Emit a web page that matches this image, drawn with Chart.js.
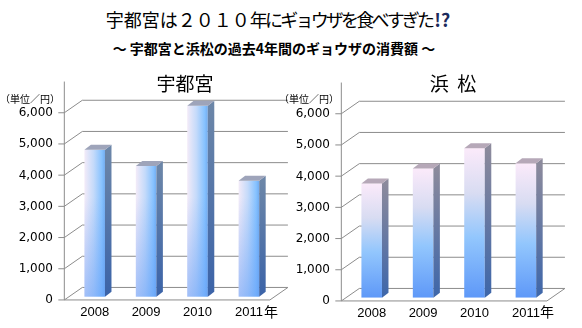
<!DOCTYPE html>
<html lang="ja">
<head>
<meta charset="utf-8">
<script src="https://cdn.jsdelivr.net/npm/chart.js@4.4.1/dist/chart.umd.min.js"></script>
<style>
  html, body { margin: 0; padding: 0; background: #fff; }
  #page { position: relative; width: 582px; height: 328px; overflow: hidden; font-family: "Noto Sans CJK JP", sans-serif; color: #000; }
  .txt { position: absolute; white-space: nowrap; }
  #title { left: 0; width: 556px; top: 7px; text-align: center; font-size: 18px; line-height: 24px; }
  #title .kana { letter-spacing: -2.8px; }
  #title b { color: #1c2a5c; margin-left: 2px; }
  #subtitle { left: 0; width: 548px; top: 38px; text-align: center; font-size: 14px; line-height: 20px; font-weight: bold; }
  .chart-title { font-size: 19px; line-height: 24px; width: 120px; text-align: center; top: 71px; }
  .unit { font-size: 10px; line-height: 14px; top: 92px; }
  .nen { font-size: 14px; line-height: 18px; top: 302px; }
  canvas { position: absolute; top: 0; }
</style>
</head>
<body>
<div id="page">
  <div class="txt" id="title">宇都宮は２０１０<span class="kana">年にギョウザを食べすぎた</span><b>!?</b></div>
  <div class="txt" id="subtitle">～ 宇都宮と浜松の過去4年間のギョウザの消費額 ～</div>

  <canvas id="chart-utsunomiya" width="290" height="328" style="left:0"></canvas>
  <canvas id="chart-hamamatsu" width="290" height="328" style="left:277px;top:1px"></canvas>

  <div class="txt chart-title" style="left:125px">宇都宮</div>
  <div class="txt chart-title" style="left:393px">浜&nbsp;&nbsp;松</div>
  <div class="txt unit" style="left:0">（単位／円）</div>
  <div class="txt unit" style="left:279px">（単位／円）</div>
  <div class="txt nen" style="left:264px">年</div>
  <div class="txt nen" style="left:540px">年</div>
</div>

<script>
// 年ごとのギョウザ消費額（円）
const years      = ['2008', '2009', '2010', '2011'];
const utsunomiya = [4710, 4190, 6120, 3720];
const hamamatsu  = [3660, 4140, 4790, 4310];
const yTicks     = [0, 1000, 2000, 3000, 4000, 5000, 6000];

// 3D風の奥行き
const WALL_DX = 18, WALL_DY = -12.5;   // 手前 → 奥の壁
const PLANE   = 0.26;                  // 棒が立つ面の位置（手前からの割合）
const BAR_DX  = 6.5, BAR_DY = -5;      // 棒の奥行き
const BAR_PCT = 0.4;
const GRID    = '#8c8c8c';

// 棒の正面の塗り
function frontFill(ctx, style) {
  const chart = ctx.chart;
  if (!chart.chartArea) return '#8ac4ff';
  const xs = chart.scales.x, ys = chart.scales.y;
  const cx   = xs.getPixelForValue(ctx.dataIndex);
  const half = xs.width / years.length * BAR_PCT / 2;
  const c = chart.ctx;
  let g;
  if (style === 'horizontal') {
    g = c.createLinearGradient(cx - half, 0, cx + half, 0);
    g.addColorStop(0,    '#f3ebf8');
    g.addColorStop(0.45, '#c4dafa');
    g.addColorStop(0.85, '#86c2ff');
    g.addColorStop(1,    '#72acf0');
  } else {
    const top  = ys.getPixelForValue(ctx.raw);
    const base = ys.getPixelForValue(0);
    g = c.createLinearGradient(0, top, 0, base);
    g.addColorStop(0,    '#fbeafa');
    g.addColorStop(0.3,  '#d8dcf2');
    g.addColorStop(0.6,  '#92c6fd');
    g.addColorStop(1,    '#5e98f8');
  }
  return g;
}

// 奥の壁・床・目盛線、棒の側面と上面
const depthPlugin = {
  id: 'depth',
  beforeDatasetsDraw(chart) {
    const { ctx, chartArea } = chart;
    const ys = chart.scales.y;
    const fx = PLANE * WALL_DX, fy = PLANE * WALL_DY;
    const left  = chartArea.left - fx;
    const right = chartArea.right - fx;

    ctx.save();
    ctx.strokeStyle = GRID;
    ctx.lineWidth = 1;
    ctx.beginPath();
    yTicks.forEach(v => {
      const y = ys.getPixelForValue(v) - fy;
      ctx.moveTo(left - 6, y);
      ctx.lineTo(left, y);
      ctx.lineTo(left + WALL_DX, y + WALL_DY);
      ctx.lineTo(right + WALL_DX, y + WALL_DY);
    });
    // 床
    const y0 = ys.getPixelForValue(0) - fy;
    ctx.moveTo(left, y0);
    ctx.lineTo(right, y0);
    ctx.lineTo(right + WALL_DX, y0 + WALL_DY);
    // 縦軸
    ctx.moveTo(left, y0);
    ctx.lineTo(left, ys.getPixelForValue(ys.max) - fy);
    ctx.stroke();
    ctx.restore();
  },
  afterDatasetsDraw(chart, args, opts) {
    const { ctx } = chart;
    const ys = chart.scales.y;
    const meta = chart.getDatasetMeta(0);

    ctx.save();
    meta.data.forEach(bar => {
      const { x, y, base, width } = bar.getProps(['x', 'y', 'base', 'width']);
      const l = x - width / 2, r = x + width / 2;

      // 左のグラフは下の方ほど青くなる
      if (opts.shade) {
        const from = Math.max(y, ys.getPixelForValue(3200));
        const sg = ctx.createLinearGradient(0, ys.getPixelForValue(3200), 0, base);
        sg.addColorStop(0, 'rgba(96,156,248,0)');
        sg.addColorStop(1, 'rgba(96,156,248,0.55)');
        ctx.fillStyle = sg;
        ctx.fillRect(l, from, width, base - from);
      }

      // 側面
      const side = ctx.createLinearGradient(0, y, 0, base);
      side.addColorStop(0, opts.sideTop);
      side.addColorStop(1, opts.sideBottom);
      ctx.fillStyle = side;
      ctx.beginPath();
      ctx.moveTo(r, y);
      ctx.lineTo(r + BAR_DX, y + BAR_DY);
      ctx.lineTo(r + BAR_DX, base + BAR_DY);
      ctx.lineTo(r, base);
      ctx.closePath();
      ctx.fill();

      // 上面
      ctx.fillStyle = opts.cap;
      ctx.beginPath();
      ctx.moveTo(l, y);
      ctx.lineTo(l + BAR_DX, y + BAR_DY);
      ctx.lineTo(r + BAR_DX, y + BAR_DY);
      ctx.lineTo(r, y);
      ctx.closePath();
      ctx.fill();
    });
    ctx.restore();
  }
};

function buildChart(id, values, style, depthOpts) {
  return new Chart(document.getElementById(id), {
    type: 'bar',
    data: {
      labels: years,
      datasets: [{
        data: values,
        backgroundColor: ctx => frontFill(ctx, style),
        borderWidth: 0,
        barPercentage: BAR_PCT,
        categoryPercentage: 1,
      }],
    },
    options: {
      responsive: false,
      animation: false,
      devicePixelRatio: 1,
      layout: { padding: { left: 0, top: 78.3, right: 15.4, bottom: 0 } },
      plugins: {
        legend: { display: false },
        tooltip: { enabled: false },
        depth: depthOpts,
      },
      scales: {
        x: {
          grid: { display: false, drawTicks: false },
          border: { display: false },
          ticks: {
            padding: 8,
            color: '#000',
            font: { family: 'Liberation Sans', size: 13 },
          },
          afterFit: s => { s.height = 31.3; },
        },
        y: {
          min: 0,
          max: 7000,
          grid: { display: false, drawTicks: false },
          border: { display: false },
          ticks: {
            stepSize: 1000,
            padding: 16,
            labelOffset: 3.5,
            color: '#000',
            font: { family: 'DejaVu Sans', size: 12 },
            callback: v => (v > 6000 ? '' : v.toLocaleString('en-US')),
          },
          afterFit: s => { s.width = 69; },
        },
      },
    },
    plugins: [depthPlugin],
  });
}

buildChart('chart-utsunomiya', utsunomiya, 'horizontal', {
  shade: true, cap: '#9ea4ba', sideTop: '#6c86a8', sideBottom: '#3b63a8',
});
buildChart('chart-hamamatsu', hamamatsu, 'vertical', {
  shade: false, cap: '#b6a8b8', sideTop: '#8c8a9c', sideBottom: '#3d66aa',
});
</script>
</body>
</html>
